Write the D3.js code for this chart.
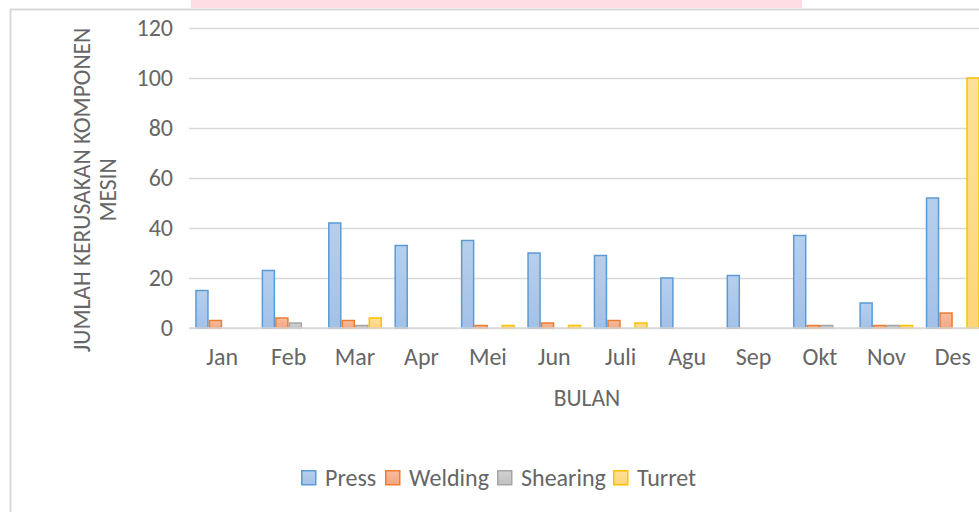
<!DOCTYPE html>
<html><head><meta charset="utf-8">
<script src="https://cdn.jsdelivr.net/npm/d3@7"></script>
<style>
html,body{margin:0;padding:0;background:#fff;overflow:hidden}
svg{display:block}
text{font-family:Carlito,Calibri,Lato,sans-serif;fill:#666666}
</style></head>
<body>
<svg id="c" width="979" height="512"></svg>
<script>
const months = ["Jan","Feb","Mar","Apr","Mei","Jun","Juli","Agu","Sep","Okt","Nov","Des"];
const seriesNames = ["Press","Welding","Shearing","Turret"];
const press    = [15,23,42,33,35,30,29,20,21,37,10,52];
const welding  = [3,4,3,0,1,2,3,0,0,1,1,6];
const shearing = [0,2,1,0,0,0,0,0,0,1,1,0];
const turret   = [0,0,4,0,1,1,2,0,0,0,1,100];
const yTicks   = [0,20,40,60,80,100,120];
const yTitle   = ["JUMLAH KERUSAKAN KOMPONEN","MESIN"];
const xTitle   = "BULAN";

const values = [press, welding, shearing, turret];
const fills  = [["#b7cfed","#a3c1e8"],["#f6bda0","#f2a783"],["#d2d2d2","#c0c0c0"],["#ffe09a","#ffd57a"]];
const strokes= ["#5b9bd5","#ed7d31","#a5a5a5","#ffc000"];
const FONT = "Carlito,Calibri,Lato,sans-serif";
const TXT = "#666666";

const svg = d3.select("#c");

// frame and pink strip
svg.append("rect").attr("x",191).attr("y",0).attr("width",611).attr("height",8).attr("fill","#fddde1");
svg.append("line").attr("x1",10).attr("x2",979).attr("y1",9.5).attr("y2",9.5).attr("stroke","#d9d9d9").attr("stroke-width",2);
svg.append("line").attr("x1",10.5).attr("x2",10.5).attr("y1",9).attr("y2",512).attr("stroke","#d9d9d9").attr("stroke-width",2);

const y = d3.scaleLinear().domain([0,120]).range([328,28]);
const x = d3.scaleBand().domain(months).range([189,986]).paddingInner(0).paddingOuter(0);
const x1 = d3.scaleBand().domain(seriesNames).range([0,x.bandwidth()]).paddingInner(0).paddingOuter(0.46);

const defs = svg.append("defs");
fills.forEach((f,i)=>{
  const g = defs.append("linearGradient").attr("id","g"+i).attr("x1",0).attr("x2",0).attr("y1",0).attr("y2",1);
  g.append("stop").attr("offset","0%").attr("stop-color",f[0]);
  g.append("stop").attr("offset","100%").attr("stop-color",f[1]);
});

// gridlines
const yAxis = d3.axisLeft(y).tickValues(yTicks).tickSize(-(986-189)).tickPadding(16);
const ga = svg.append("g").attr("transform","translate(189,0)").call(yAxis);
ga.select(".domain").remove();
ga.selectAll(".tick line").attr("stroke","#d9d9d9").attr("stroke-width",1.5);
ga.selectAll(".tick text").attr("font-size",24).attr("fill",TXT).style("font-family",FONT);

// bars
const groups = svg.append("g").selectAll("g").data(months).join("g")
  .attr("transform",d=>`translate(${x(d)},0)`);
groups.selectAll("rect").data((m,i)=>seriesNames.map((s,j)=>({s,j,v:values[j][i]})))
  .join("rect")
  .attr("x",d=>x1(d.s)+0.75)
  .attr("width",x1.bandwidth()-1.5)
  .attr("y",d=>y(d.v))
  .attr("height",d=>y(0)-y(d.v))
  .attr("fill",d=>`url(#g${d.j})`)
  .attr("stroke",d=>strokes[d.j])
  .attr("stroke-width",1.5)
  .attr("display",d=>d.v>0?null:"none");

// baseline
svg.append("line").attr("x1",189).attr("x2",986).attr("y1",y(0)).attr("y2",y(0)).attr("stroke","#d9d9d9").attr("stroke-width",1.5);

// x axis labels
const xAxis = d3.axisBottom(x).tickSize(0).tickPadding(20);
const gx = svg.append("g").attr("transform",`translate(0,${y(0)})`).call(xAxis);
gx.select(".domain").remove();
gx.selectAll(".tick text").attr("font-size",24).attr("fill",TXT).style("font-family",FONT);

// axis titles
svg.append("text").attr("x",587).attr("y",406).attr("text-anchor","middle").attr("font-size",23.5).text(xTitle);
yTitle.forEach((t,i)=>{
  svg.append("text").attr("transform",`translate(${90+i*26},190) rotate(-90)`)
    .attr("text-anchor","middle").attr("font-size",23.5).text(t);
});

// legend
const legX = [301,385,497,613];
const leg = svg.append("g");
seriesNames.forEach((s,i)=>{
  leg.append("rect").attr("x",legX[i]+0.75).attr("y",470.75).attr("width",14).attr("height",14)
    .attr("fill",`url(#g${i})`).attr("stroke",strokes[i]).attr("stroke-width",1.5);
  leg.append("text").attr("x",legX[i]+24).attr("y",486).attr("font-size",24).text(s);
});
</script>
</body></html>
